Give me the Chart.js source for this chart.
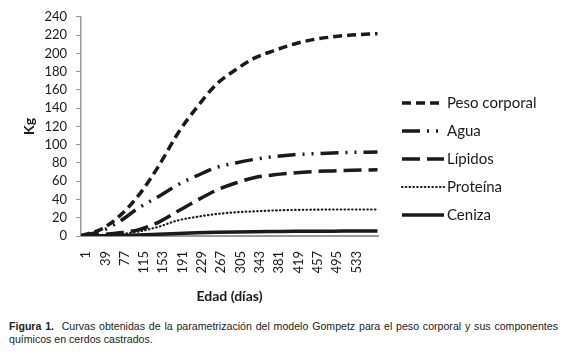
<!DOCTYPE html>
<html>
<head>
<meta charset="utf-8">
<script src="https://cdn.jsdelivr.net/npm/chart.js@4"></script>
<style>
  body { margin: 0; background: #fff; }
  #wrap { position: relative; width: 564px; height: 318px; }
  #caption {
    position: absolute; left: 9px; top: 320px; width: 549px;
    font-family: "Liberation Sans", Arial, sans-serif; font-size: 10.6px;
    line-height: 13px; color: #222; text-align: justify;
  }
</style>
</head>
<body>
<div id="wrap"><canvas id="gompertz"></canvas></div>
<div id="caption"><b>Figura 1.</b>&nbsp; Curvas obtenidas de la parametrización del modelo Gompetz para el peso corporal y sus componentes químicos en cerdos castrados.</div>
<script>
const days = [1, 39, 77, 115, 153, 191, 229, 267, 305, 343, 381, 419, 457, 495, 533, 584];
const tickDays = [1, 39, 77, 115, 153, 191, 229, 267, 305, 343, 381, 419, 457, 495, 533];

const pesoCorporal = [0.5, 7, 22, 45, 76, 112, 141, 166, 182, 195, 203, 210, 215, 218, 220, 221.5];
const agua = [0.3, 5, 16, 31, 43, 56, 66, 75, 80, 84, 87, 89, 90, 91, 91.5, 92];
const lipidos = [0.1, 1.5, 3.5, 7, 15, 27, 39, 50, 58, 64, 67, 69, 70.5, 71.3, 72, 72.5];
const proteina = [0.1, 0.8, 2, 5, 10, 17, 21, 24, 26, 27, 28, 28.5, 28.8, 29, 29, 29];
const ceniza = [0, 0.2, 0.6, 1.2, 2, 2.8, 3.5, 4, 4.4, 4.7, 4.9, 5.1, 5.2, 5.3, 5.4, 5.5];

const ink = "#1a1a1a";
const axisGray = "#9a9a9a";

function pts(values) {
  return days.map((d, i) => ({ x: d, y: values[i] }));
}

function series(label, values, dash, width, cap) {
  return {
    label: label,
    data: pts(values),
    borderColor: ink,
    backgroundColor: ink,
    borderWidth: width,
    borderDash: dash,
    borderCapStyle: cap || "butt",
    pointRadius: 0,
    cubicInterpolationMode: "monotone",
    fill: false,
  };
}

// legend drawn by hand so the line samples keep their dash patterns
const sideLegend = {
  id: "sideLegend",
  afterDraw(chart) {
    const c = chart.ctx;
    const x0 = 402, y0 = 103, step = 28, len = 42;
    chart.data.datasets.forEach((ds, i) => {
      const y = y0 + i * step;
      c.save();
      c.strokeStyle = ds.borderColor;
      c.lineWidth = ds.borderWidth;
      c.lineCap = ds.borderCapStyle;
      c.setLineDash(ds.borderDash);
      c.beginPath();
      c.moveTo(x0, y);
      c.lineTo(x0 + len, y);
      c.stroke();
      c.setLineDash([]);
      c.fillStyle = ink;
      c.font = "15px Lato";
      c.textBaseline = "middle";
      c.fillText(ds.label, x0 + len + 3, y);
      c.restore();
    });
  },
};

const ctx = document.getElementById("gompertz");
new Chart(ctx, {
  type: "line",
  data: {
    datasets: [
      series("Peso corporal", pesoCorporal, [9, 5], 3.5),
      series("Agua", agua, [18, 7, 2, 7, 2, 7], 3.5),
      series("Lípidos", lipidos, [18, 7], 3.5),
      series("Proteína", proteina, [0.5, 3.3], 2.2, "round"),
      series("Ceniza", ceniza, [], 3.5),
    ],
  },
  options: {
    responsive: true,
    maintainAspectRatio: false,
    animation: false,
    layout: { padding: { top: 13, right: 186, left: 0, bottom: 0 } },
    plugins: {
      legend: { display: false },
      tooltip: { enabled: false },
    },
    scales: {
      x: {
        type: "linear",
        min: 1,
        max: 585,
        afterBuildTicks: (scale) => {
          scale.ticks = tickDays.map((v) => ({ value: v }));
        },
        afterFit: (scale) => {
          scale.height = 82;
        },
        grid: { display: true, drawOnChartArea: false, drawTicks: false },
        border: { color: axisGray, width: 2 },
        ticks: {
          minRotation: 90,
          maxRotation: 90,
          padding: 15,
          labelOffset: 5,
          color: ink,
          font: { family: "Lato", size: 13 },
        },
        title: {
          display: true,
          text: "Edad (días)",
          color: ink,
          font: { family: "Lato", size: 14, weight: "bold" },
          padding: { top: 0, bottom: 13 },
        },
      },
      y: {
        min: 0,
        max: 240,
        afterFit: (scale) => {
          scale.width = 81;
        },
        grid: { display: true, drawOnChartArea: false, drawTicks: true, tickLength: 5, color: axisGray },
        border: { color: axisGray, width: 1.5 },
        ticks: {
          stepSize: 20,
          maxTicksLimit: 13,
          autoSkip: false,
          padding: 9,
          color: ink,
          font: { family: "Lato", size: 13 },
        },
        title: {
          display: true,
          text: "Kg",
          color: ink,
          font: { family: "Lato", size: 14, weight: "bold" },
          padding: { top: 21, bottom: 0 },
        },
      },
    },
  },
  plugins: [sideLegend],
});
</script>
</body>
</html>
